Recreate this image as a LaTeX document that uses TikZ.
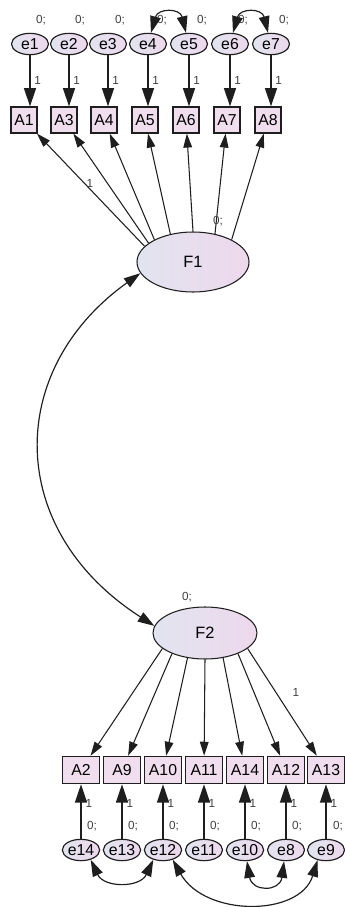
\documentclass[tikz,border=0pt]{standalone}
\usepackage{fontspec}
\setmainfont{Liberation Sans}
\usetikzlibrary{arrows.meta, shapes.geometric, positioning}
\definecolor{semblue}{HTML}{E2E4F0}
\definecolor{sempink}{HTML}{EDD8EC}
\definecolor{semline}{HTML}{1E1E1E}

\begin{document}
\begin{tikzpicture}[
    x=0.03cm, y=-0.03cm,
    obs/.style    = {draw=semline, line width=1pt, fill=sempink!85,
                     inner sep=0pt, font=\fontsize{13.5}{13.5}\selectfont},
    obstop/.style = {obs, minimum width=0.78cm, minimum height=0.78cm},
    obsbot/.style = {obs, minimum width=1.1cm, minimum height=0.82cm},
    err/.style    = {ellipse, draw=semline, line width=1pt, inner sep=0pt,
                     left color=semblue, right color=sempink,
                     minimum width=1.11cm, minimum height=0.64cm,
                     font=\fontsize{13.5}{13.5}\selectfont},
    fac/.style    = {ellipse, draw=semline, line width=0.9pt, inner sep=0pt,
                     left color=semblue, right color=sempink,
                     font=\fontsize{14}{14}\selectfont},
    lab/.style    = {inner sep=0pt, text=black!75, font=\fontsize{10}{10}\selectfont},
    earr/.style   = {-{Triangle[length=0.55cm, width=0.36cm]}, line width=1.3pt, semline},
    farr/.style   = {-{Triangle[length=0.42cm, width=0.26cm]}, line width=0.9pt, semline},
    cov/.style    = {{Triangle[length=0.5cm, width=0.32cm]}-{Triangle[length=0.5cm, width=0.32cm]},
                     line width=1pt, semline},
  ]
  \useasboundingbox (0,0) rectangle (345,907);

  %% Top error terms
  \node[err] (e1) at (30,44)  {e1};
  \node[err] (e2) at (69,44)  {e2};
  \node[err] (e3) at (108,44) {e3};
  \node[err] (e4) at (148,44) {e4};
  \node[err] (e5) at (189,44) {e5};
  \node[err] (e6) at (230,44) {e6};
  \node[err] (e7) at (271,44) {e7};

  \node[lab] (v1) at (41,20)  {0;};
  \node[lab] (v2) at (80,20)  {0;};
  \node[lab] (v3) at (120,20) {0;};
  \node[lab] (v4) at (162,20) {0;};
  \node[lab] (v5) at (202,20) {0;};
  \node[lab] (v6) at (243,20) {0;};
  \node[lab] (v7) at (284,20) {0;};

  %% Top indicators
  \node[obstop] (A1) at (24,120)  {A1};
  \node[obstop] (A3) at (64,120)  {A3};
  \node[obstop] (A4) at (104,120) {A4};
  \node[obstop] (A5) at (145,120) {A5};
  \node[obstop] (A6) at (186,120) {A6};
  \node[obstop] (A7) at (227,120) {A7};
  \node[obstop] (A8) at (268,120) {A8};

  \draw[earr] (e1) -- (e1 |- A1.north) node[lab, midway, right=3pt] (w1) {1};
  \draw[earr] (e2) -- (e2 |- A3.north) node[lab, midway, right=3pt] (w2) {1};
  \draw[earr] (e3) -- (e3 |- A4.north) node[lab, midway, right=3pt] (w3) {1};
  \draw[earr] (e4) -- (e4 |- A5.north) node[lab, midway, right=3pt] (w4) {1};
  \draw[earr] (e5) -- (e5 |- A6.north) node[lab, midway, right=3pt] (w5) {1};
  \draw[earr] (e6) -- (e6 |- A7.north) node[lab, midway, right=3pt] (w6) {1};
  \draw[earr] (e7) -- (e7 |- A8.north) node[lab, midway, right=3pt] (w7) {1};

  %% Error covariances (top)
  \draw[cov] (e4.75) .. controls (158,8) and (180,8) .. (e5.105);
  \draw[cov] (e6.75) .. controls (240,8) and (262,8) .. (e7.105);

  %% Factor F1
  \node[fac, minimum width=3.36cm, minimum height=1.8cm] (F1) at (193,262) {F1};
  \draw[farr] (F1.162) -- (A1);
  \draw[farr] (F1.157) -- (A3);
  \draw[farr] (F1.150) -- (A4);
  \draw[farr] (F1.129) -- (A5);
  \draw[farr] (F1.90)  -- (A6);
  \draw[farr] (F1.52)  -- (A7);
  \draw[farr] (F1.30)  -- (A8);
  \node[lab] (l1) at (90,183)  {1};
  \node[lab] (m1) at (218,221) {0;};

  %% Factor F2
  \node[fac, minimum width=3.12cm, minimum height=1.56cm] (F2) at (205,633) {F2};
  \node[lab] (m2) at (187,597) {0;};

  %% Factor covariance
  \draw[cov] (F1.192) .. controls (5,370) and (5,530) .. (F2.172);

  %% Bottom indicators
  \node[obsbot] (A2)  at (81,770)  {A2};
  \node[obsbot] (A9)  at (122,770) {A9};
  \node[obsbot] (A10) at (163,770) {A10};
  \node[obsbot] (A11) at (204,770) {A11};
  \node[obsbot] (A14) at (245,770) {A14};
  \node[obsbot] (A12) at (286,770) {A12};
  \node[obsbot] (A13) at (326,770) {A13};

  \draw[farr] (F2.200) -- (A2);
  \draw[farr] (F2.212) -- (A9);
  \draw[farr] (F2.235) -- (A10);
  \draw[farr] (F2.270) -- (A11);
  \draw[farr] (F2.306) -- (A14);
  \draw[farr] (F2.328) -- (A12);
  \draw[farr] (F2.340) -- (A13);
  \node[lab] (l2) at (296,692) {1};

  %% Bottom error terms
  \node[err] (e14) at (81,850)  {e14};
  \node[err] (e13) at (122,850) {e13};
  \node[err] (e12) at (163,850) {e12};
  \node[err] (e11) at (204,850) {e11};
  \node[err] (e10) at (245,850) {e10};
  \node[err] (e8)  at (286,850) {e8};
  \node[err] (e9)  at (326,850) {e9};

  \draw[earr] (e14) -- (e14 |- A2.south);
  \draw[earr] (e13) -- (e13 |- A9.south);
  \draw[earr] (e12) -- (e12 |- A10.south);
  \draw[earr] (e11) -- (e11 |- A11.south);
  \draw[earr] (e10) -- (e10 |- A14.south);
  \draw[earr] (e8)  -- (e8 |- A12.south);
  \draw[earr] (e9)  -- (e9 |- A13.south);

  \node[lab] (w14) at (89,803)  {1};
  \node[lab] (w13) at (130,803) {1};
  \node[lab] (w12) at (171,803) {1};
  \node[lab] (w11) at (212,803) {1};
  \node[lab] (w10) at (253,803) {1};
  \node[lab] (w8)  at (294,803) {1};
  \node[lab] (w9)  at (334,803) {1};

  \node[lab] (v14) at (92,826)  {0;};
  \node[lab] (v13) at (133,826) {0;};
  \node[lab] (v12) at (174,826) {0;};
  \node[lab] (v11) at (215,826) {0;};
  \node[lab] (v10) at (256,826) {0;};
  \node[lab] (v8)  at (297,826) {0;};
  \node[lab] (v9)  at (338,826) {0;};

  %% Error covariances (bottom)
  \draw[cov] (e14.-45) .. controls (104,888) and (140,888) .. (e12.-135);
  \draw[cov] (e10.-80) .. controls (252,892) and (280,892) .. (e8.-100);
  \draw[cov] (e12.-45) .. controls (205,917) and (300,917) .. (e9.-130);

\end{tikzpicture}
\end{document}
